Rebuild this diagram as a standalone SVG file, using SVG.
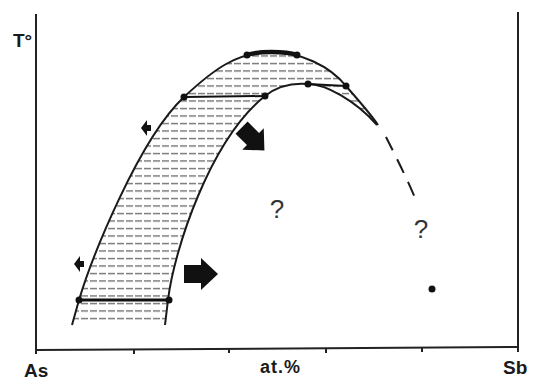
<svg xmlns="http://www.w3.org/2000/svg" xmlns:xlink="http://www.w3.org/1999/xlink" width="533" height="381" viewBox="0 0 533 381">
<style>
.ax{stroke:#222;stroke-width:2;fill:none}
.cv{stroke:#1a1a1a;stroke-width:2;fill:none}
.tie{stroke:#111;fill:none}
.dot{fill:#111}
.lbl{font-family:"Liberation Sans",Arial,sans-serif;font-weight:bold;fill:#1a1a1a}
.q{font-family:"Liberation Sans",Arial,sans-serif;fill:#333;font-size:26px}
.arr{fill:#111}
</style>
<defs>
<pattern id="hatch" width="9" height="7.5" patternUnits="userSpaceOnUse">
<line x1="0" y1="3.5" x2="7" y2="3.5" stroke="#666" stroke-width="1.3"/>
</pattern>
<clipPath id="band">
<path d="M72,325 L79,300 C92,257 139,139 184,97 C214,69 237,52 272,52 C300,52 330,66 346,86 C358,100 370,113 378,125 L377,125 C355,100 325,84 308,84 C296,83 280,84 265,96 C210,140 174,250 168,300 L165,325 Z"/>
</clipPath>
<path id="bigArrow" d="M-17,-9 L0,-9 L0,-16 L17,0 L0,16 L0,9 L-17,9 Z"/>
<path id="smallArrow" d="M-5,0 L1,-8 L1,-3 L5,-3 L5,3 L1,3 L1,8 Z"/>
</defs>

<g id="axes">
<path class="ax" d="M36,14 L36,354 M36,350 L518,347 M518,12 L518,352"/>
<path class="ax" d="M134,349 L134,354 M229,348 L229,353 M326,348 L326,353 M422,347 L422,352"/>
</g>

<g id="labels">
<text class="lbl" x="13" y="47" font-size="19">T°</text>
<text class="lbl" x="24" y="377" font-size="19">As</text>
<text class="lbl" x="260" y="373" font-size="18" letter-spacing="1">at.%</text>
<text class="lbl" x="503" y="374" font-size="19">Sb</text>
</g>

<g id="hatching">
<rect x="60" y="40" width="330" height="290" fill="url(#hatch)" clip-path="url(#band)"/>
</g>

<g id="connectors">
<path id="outer" class="cv" d="M72,325 L79,300 C92,257 139,139 184,97 C214,69 237,52 272,52 C300,52 330,66 346,86 C358,100 370,113 378,125"/>
<path id="inner" class="cv" d="M165,325 L168,300 C174,250 210,140 265,96 C280,84 296,83 308,84 C325,84 355,100 377,125"/>
<path id="dashed" class="cv" d="M386,137 C395,155 408,180 417,203" stroke-dasharray="15 10"/>
<path class="tie" stroke-width="4.5" d="M247,55 C258,51 285,51 297,55"/>
<path class="tie" stroke-width="2" d="M184,97 L265,96"/>
<path class="tie" stroke-width="2" d="M308,84 L346,86"/>
<path class="tie" stroke-width="3" d="M79,300 L169,300"/>
</g>

<g id="points">
<circle class="dot" cx="79" cy="300" r="3.5"/>
<circle class="dot" cx="169" cy="300" r="3.5"/>
<circle class="dot" cx="184" cy="97" r="3.5"/>
<circle class="dot" cx="265" cy="96" r="3.5"/>
<circle class="dot" cx="247" cy="55" r="3.5"/>
<circle class="dot" cx="297" cy="55" r="3.5"/>
<circle class="dot" cx="308" cy="84" r="3.5"/>
<circle class="dot" cx="346" cy="86" r="3.5"/>
<circle class="dot" cx="432" cy="289" r="3.5"/>
</g>

<g id="arrows">
<use xlink:href="#smallArrow" href="#smallArrow" class="arr" transform="translate(146,128)"/>
<use xlink:href="#smallArrow" href="#smallArrow" class="arr" transform="translate(79,264)"/>
<use xlink:href="#bigArrow" href="#bigArrow" class="arr" transform="translate(201,274)"/>
<use xlink:href="#bigArrow" href="#bigArrow" class="arr" transform="translate(253,139) rotate(45) scale(0.95)"/>
</g>

<g id="questions">
<text class="q" x="277" y="218" text-anchor="middle">?</text>
<text class="q" x="421" y="238" text-anchor="middle">?</text>
</g>
</svg>
